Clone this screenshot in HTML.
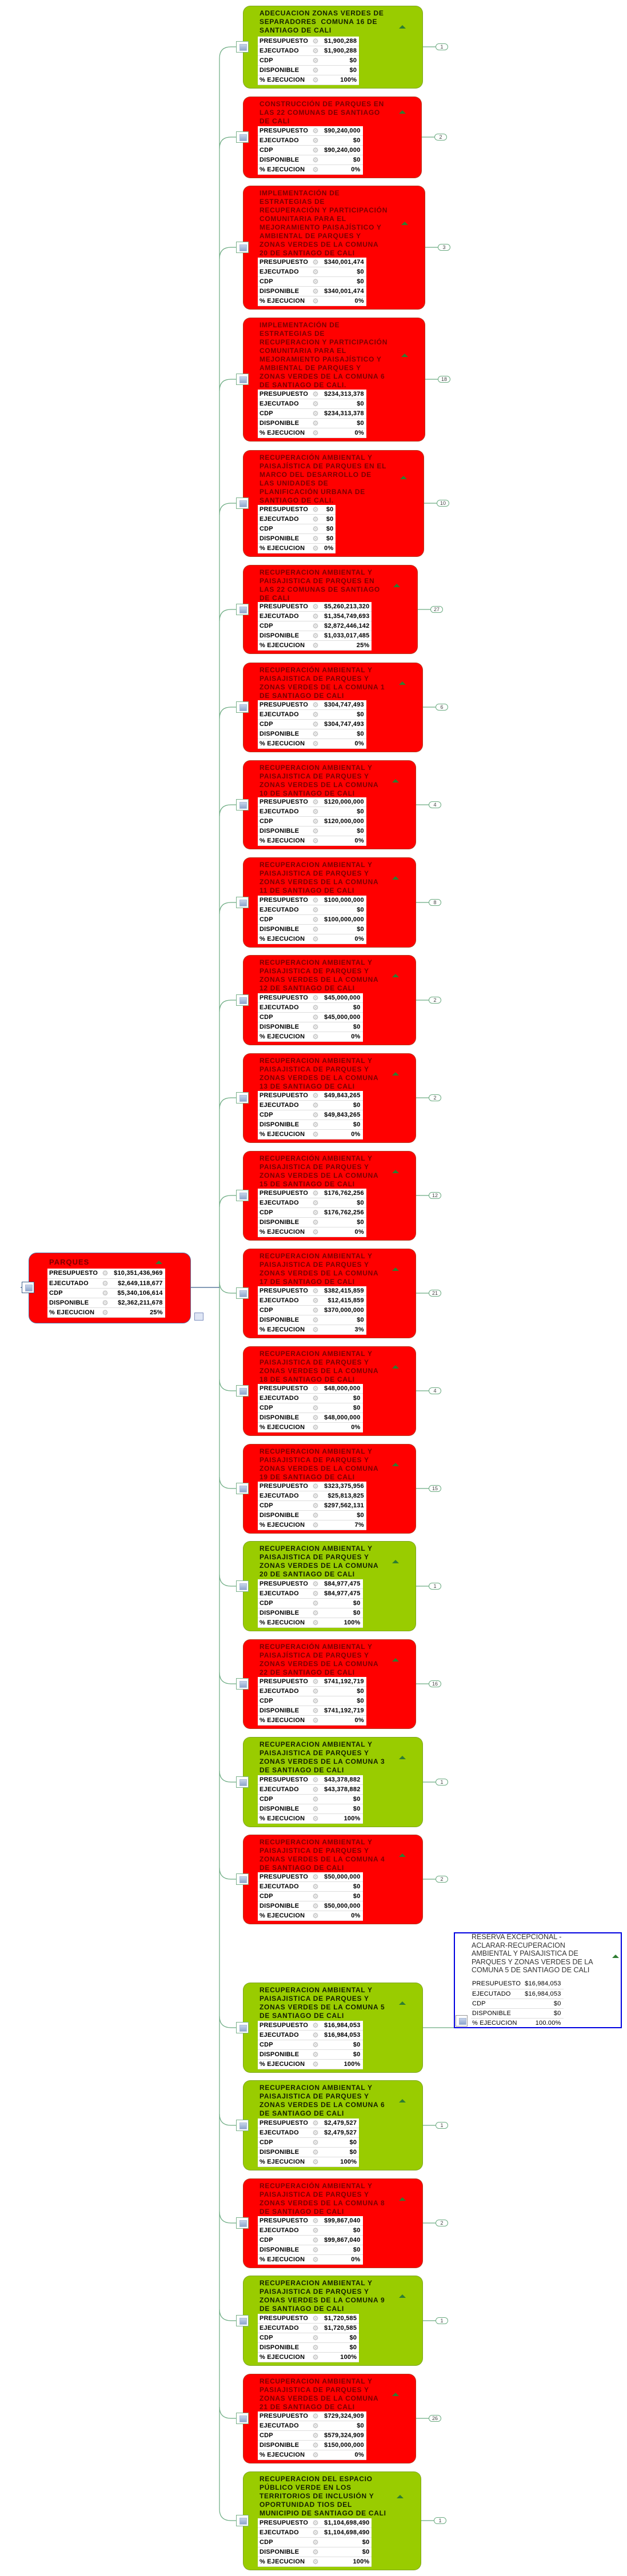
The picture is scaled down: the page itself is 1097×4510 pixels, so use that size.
<!DOCTYPE html>
<html><head><meta charset="utf-8">
<style>
*{margin:0;padding:0;box-sizing:border-box}
body{width:1097px;height:4510px;background:#fff;position:relative;overflow:hidden;font-family:"Liberation Sans",sans-serif}
.n{position:absolute;left:425px;border-radius:13px;border:1px solid rgba(90,120,60,.45)}
.r{background:#ff0000}
.g{background:#99cc00}
.t{position:absolute;left:28px;top:5px;font-weight:bold;font-size:12px;letter-spacing:.7px;line-height:15px;white-space:nowrap}
.r .t{color:#7a0000}
.g .t{color:#142000}
.n table{position:absolute;left:25px;bottom:5px}
table{border-collapse:collapse;background:#fff}
td{height:17px;font-size:11px;font-weight:bold;letter-spacing:.2px;color:#000;white-space:nowrap;border-bottom:1px solid #ddd;padding:0 4px 0 3px;line-height:16px}
td.l{width:90px}
td.k{width:18px;color:#c8c8c8;font-size:12px;padding:0;text-align:center}
td.v{text-align:right;padding-left:6px}
.tri{position:absolute;width:0;height:0;border-left:6px solid transparent;border-right:6px solid transparent;border-bottom:6px solid #2e7d32}
.ic{position:absolute;left:413px;width:22px;height:20px;background:#fff;border:1px solid #7ab08a}
.ic:after{content:"";position:absolute;left:5px;top:4px;width:11px;height:10px;background:linear-gradient(#c6d4ea,#8ea6cc);border:1px solid #a9b9d6}
.bd{position:absolute;width:22px;height:12px;border:1px solid #6aaa80;border-radius:7px;font-size:9px;line-height:10px;text-align:center;color:#444;background:#fff}
</style></head><body>
<svg width="1097" height="4510" style="position:absolute;left:0;top:0" xmlns="http://www.w3.org/2000/svg">
<g fill="none" stroke="#6aaa80" stroke-width="1.2">
<path d="M384,102 L384,4393"/>
<path d="M384,102 Q384,82 404,82 L413,82"/>
<path d="M384,260 Q384,240 404,240 L413,240"/>
<path d="M384,453 Q384,433 404,433 L413,433"/>
<path d="M384,684 Q384,664 404,664 L413,664"/>
<path d="M384,901 Q384,881 404,881 L413,881"/>
<path d="M384,1087 Q384,1067 404,1067 L413,1067"/>
<path d="M384,1258 Q384,1238 404,1238 L413,1238"/>
<path d="M384,1429 Q384,1409 404,1409 L413,1409"/>
<path d="M384,1600 Q384,1580 404,1580 L413,1580"/>
<path d="M384,1771 Q384,1751 404,1751 L413,1751"/>
<path d="M384,1942 Q384,1922 404,1922 L413,1922"/>
<path d="M384,2113 Q384,2093 404,2093 L413,2093"/>
<path d="M384,2244 Q384,2264 404,2264 L413,2264"/>
<path d="M384,2415 Q384,2435 404,2435 L413,2435"/>
<path d="M384,2586 Q384,2606 404,2606 L413,2606"/>
<path d="M384,2757 Q384,2777 404,2777 L413,2777"/>
<path d="M384,2928 Q384,2948 404,2948 L413,2948"/>
<path d="M384,3100 Q384,3120 404,3120 L413,3120"/>
<path d="M384,3270 Q384,3290 404,3290 L413,3290"/>
<path d="M384,3530 Q384,3550 404,3550 L413,3550"/>
<path d="M384,3701 Q384,3721 404,3721 L413,3721"/>
<path d="M384,3872 Q384,3892 404,3892 L413,3892"/>
<path d="M384,4043 Q384,4063 404,4063 L413,4063"/>
<path d="M384,4214 Q384,4234 404,4234 L413,4234"/>
<path d="M384,4393 Q384,4413 404,4413 L413,4413"/>
<path d="M740,82 H762"/><path d="M738,240 H760"/><path d="M744,433 H766"/><path d="M744,664 H766"/>
<path d="M742,881 H764"/><path d="M731,1067 H753"/><path d="M740,1238 H762"/><path d="M728,1409 H750"/>
<path d="M728,1580 H750"/><path d="M728,1751 H750"/><path d="M728,1922 H750"/><path d="M728,2093 H750"/>
<path d="M728,2264 H750"/><path d="M728,2435 H750"/><path d="M728,2606 H750"/><path d="M728,2777 H750"/>
<path d="M728,2948 H750"/><path d="M740,3120 H762"/><path d="M740,3290 H762"/><path d="M740,3550 H794"/>
<path d="M740,3721 H762"/><path d="M740,3892 H762"/><path d="M740,4063 H762"/><path d="M728,4234 H750"/>
<path d="M737,4413 H759"/>
</g>
<path d="M334,2254 H384" stroke="#3a5f8a" stroke-width="1.2"/>
<path d="M36,2254 H40" stroke="#3a5f8a" stroke-width="1.2"/>
</svg>

<!-- badges -->
<div class="bd" style="left:762px;top:76px">1</div>
<div class="bd" style="left:760px;top:234px">2</div>
<div class="bd" style="left:766px;top:427px">3</div>
<div class="bd" style="left:766px;top:658px">18</div>
<div class="bd" style="left:764px;top:875px">10</div>
<div class="bd" style="left:753px;top:1061px">27</div>
<div class="bd" style="left:762px;top:1232px">6</div>
<div class="bd" style="left:750px;top:1403px">4</div>
<div class="bd" style="left:750px;top:1574px">8</div>
<div class="bd" style="left:750px;top:1745px">2</div>
<div class="bd" style="left:750px;top:1916px">2</div>
<div class="bd" style="left:750px;top:2087px">12</div>
<div class="bd" style="left:750px;top:2258px">21</div>
<div class="bd" style="left:750px;top:2429px">4</div>
<div class="bd" style="left:750px;top:2600px">15</div>
<div class="bd" style="left:750px;top:2771px">1</div>
<div class="bd" style="left:750px;top:2942px">16</div>
<div class="bd" style="left:762px;top:3114px">1</div>
<div class="bd" style="left:762px;top:3284px">2</div>
<div class="bd" style="left:762px;top:3715px">1</div>
<div class="bd" style="left:762px;top:3886px">2</div>
<div class="bd" style="left:762px;top:4057px">1</div>
<div class="bd" style="left:750px;top:4228px">26</div>
<div class="bd" style="left:759px;top:4407px">1</div>

<!-- ROOT -->
<div style="position:absolute;left:50px;top:2193px;width:284px;height:124px;background:#ff0000;border:1px solid #5a6a9a;border-radius:14px">
  <div style="position:absolute;left:35px;top:8px;font-weight:bold;font-size:13px;letter-spacing:1px;color:#7a0000">PARQUES</div>
  <div class="tri" style="left:221px;top:13px"></div>
  <table style="position:absolute;left:32px;top:27px">
    <tr><td class="l">PRESUPUESTO</td><td class="k">⚙</td><td class="v">$10,351,436,969</td></tr>
    <tr><td class="l">EJECUTADO</td><td class="k">⚙</td><td class="v">$2,649,118,677</td></tr>
    <tr><td class="l">CDP</td><td class="k">⚙</td><td class="v">$5,340,106,614</td></tr>
    <tr><td class="l">DISPONIBLE</td><td class="k">⚙</td><td class="v">$2,362,211,678</td></tr>
    <tr><td class="l">% EJECUCION</td><td class="k">⚙</td><td class="v">25%</td></tr>
  </table>
</div>
<div class="ic" style="left:38px;top:2244px;border-color:#3a5f8a"></div>
<div style="position:absolute;left:340px;top:2298px;width:16px;height:14px;border:1px solid #7d8fbf;background:#dfe6f5"></div>

<!-- 1 -->
<div class="n g" style="top:10px;height:145px;width:315px">
<div class="t">ADECUACION ZONAS VERDES DE<br>SEPARADORES&nbsp; COMUNA 16 DE<br>SANTIAGO DE CALI</div>
<div class="tri" style="left:272px;top:33px"></div>
<table><tr><td class="l">PRESUPUESTO</td><td class="k">⚙</td><td class="v">$1,900,288</td></tr><tr><td class="l">EJECUTADO</td><td class="k">⚙</td><td class="v">$1,900,288</td></tr><tr><td class="l">CDP</td><td class="k">⚙</td><td class="v">$0</td></tr><tr><td class="l">DISPONIBLE</td><td class="k">⚙</td><td class="v">$0</td></tr><tr><td class="l">% EJECUCION</td><td class="k">⚙</td><td class="v">100%</td></tr></table>
</div>
<div class="ic" style="top:72px"></div>

<!-- 2 -->
<div class="n r" style="top:169px;height:143px;width:313px">
<div class="t">CONSTRUCCIÓN DE PARQUES EN<br>LAS 22 COMUNAS DE SANTIAGO<br>DE CALI</div>
<div class="tri" style="left:272px;top:23px"></div>
<table><tr><td class="l">PRESUPUESTO</td><td class="k">⚙</td><td class="v">$90,240,000</td></tr><tr><td class="l">EJECUTADO</td><td class="k">⚙</td><td class="v">$0</td></tr><tr><td class="l">CDP</td><td class="k">⚙</td><td class="v">$90,240,000</td></tr><tr><td class="l">DISPONIBLE</td><td class="k">⚙</td><td class="v">$0</td></tr><tr><td class="l">% EJECUCION</td><td class="k">⚙</td><td class="v">0%</td></tr></table>
</div>
<div class="ic" style="top:230px"></div>

<!-- 3 -->
<div class="n r" style="top:325px;height:217px;width:319px">
<div class="t">IMPLEMENTACIÓN DE<br>ESTRATEGIAS DE<br>RECUPERACIÓN Y PARTICIPACIÓN<br>COMUNITARIA PARA EL<br>MEJORAMIENTO PAISAJÍSTICO Y<br>AMBIENTAL DE PARQUES Y<br>ZONAS VERDES DE LA COMUNA<br>20 DE SANTIAGO DE CALI</div>
<div class="tri" style="left:276px;top:62px"></div>
<table><tr><td class="l">PRESUPUESTO</td><td class="k">⚙</td><td class="v">$340,001,474</td></tr><tr><td class="l">EJECUTADO</td><td class="k">⚙</td><td class="v">$0</td></tr><tr><td class="l">CDP</td><td class="k">⚙</td><td class="v">$0</td></tr><tr><td class="l">DISPONIBLE</td><td class="k">⚙</td><td class="v">$340,001,474</td></tr><tr><td class="l">% EJECUCION</td><td class="k">⚙</td><td class="v">0%</td></tr></table>
</div>
<div class="ic" style="top:423px"></div>

<!-- 4 -->
<div class="n r" style="top:556px;height:217px;width:319px">
<div class="t">IMPLEMENTACIÓN DE<br>ESTRATEGIAS DE<br>RECUPERACION Y PARTICIPACIÓN<br>COMUNITARIA PARA EL<br>MEJORAMIENTO PAISAJÍSTICO Y<br>AMBIENTAL DE PARQUES Y<br>ZONAS VERDES DE LA COMUNA 6<br>DE SANTIAGO DE CALI.</div>
<div class="tri" style="left:276px;top:62px"></div>
<table><tr><td class="l">PRESUPUESTO</td><td class="k">⚙</td><td class="v">$234,313,378</td></tr><tr><td class="l">EJECUTADO</td><td class="k">⚙</td><td class="v">$0</td></tr><tr><td class="l">CDP</td><td class="k">⚙</td><td class="v">$234,313,378</td></tr><tr><td class="l">DISPONIBLE</td><td class="k">⚙</td><td class="v">$0</td></tr><tr><td class="l">% EJECUCION</td><td class="k">⚙</td><td class="v">0%</td></tr></table>
</div>
<div class="ic" style="top:654px"></div>

<!-- 5 -->
<div class="n r" style="top:788px;height:187px;width:317px">
<div class="t">RECUPERACIÓN AMBIENTAL Y<br>PAISAJÍSTICA DE PARQUES EN EL<br>MARCO DEL DESARROLLO DE<br>LAS UNIDADES DE<br>PLANIFICACIÓN URBANA DE<br>SANTIAGO DE CALI.</div>
<div class="tri" style="left:274px;top:44px"></div>
<table><tr><td class="l">PRESUPUESTO</td><td class="k">⚙</td><td class="v">$0</td></tr><tr><td class="l">EJECUTADO</td><td class="k">⚙</td><td class="v">$0</td></tr><tr><td class="l">CDP</td><td class="k">⚙</td><td class="v">$0</td></tr><tr><td class="l">DISPONIBLE</td><td class="k">⚙</td><td class="v">$0</td></tr><tr><td class="l">% EJECUCION</td><td class="k">⚙</td><td class="v">0%</td></tr></table>
</div>
<div class="ic" style="top:871px"></div>

<!-- 6 -->
<div class="n r" style="top:989px;height:156px;width:306px">
<div class="t">RECUPERACION AMBIENTAL Y<br>PAISAJISTICA DE PARQUES EN<br>LAS 22 COMUNAS DE SANTIAGO<br>DE CALI</div>
<div class="tri" style="left:262px;top:32px"></div>
<table><tr><td class="l">PRESUPUESTO</td><td class="k">⚙</td><td class="v">$5,260,213,320</td></tr><tr><td class="l">EJECUTADO</td><td class="k">⚙</td><td class="v">$1,354,749,693</td></tr><tr><td class="l">CDP</td><td class="k">⚙</td><td class="v">$2,872,446,142</td></tr><tr><td class="l">DISPONIBLE</td><td class="k">⚙</td><td class="v">$1,033,017,485</td></tr><tr><td class="l">% EJECUCION</td><td class="k">⚙</td><td class="v">25%</td></tr></table>
</div>
<div class="ic" style="top:1057px"></div>

<!-- 7 c1 -->
<div class="n r" style="top:1160px;height:157px;width:315px">
<div class="t">RECUPERACIÓN AMBIENTAL Y<br>PAISAJISTICA DE PARQUES Y<br>ZONAS VERDES DE LA COMUNA 1<br>DE SANTIAGO DE CALI</div>
<div class="tri" style="left:272px;top:32px"></div>
<table><tr><td class="l">PRESUPUESTO</td><td class="k">⚙</td><td class="v">$304,747,493</td></tr><tr><td class="l">EJECUTADO</td><td class="k">⚙</td><td class="v">$0</td></tr><tr><td class="l">CDP</td><td class="k">⚙</td><td class="v">$304,747,493</td></tr><tr><td class="l">DISPONIBLE</td><td class="k">⚙</td><td class="v">$0</td></tr><tr><td class="l">% EJECUCION</td><td class="k">⚙</td><td class="v">0%</td></tr></table>
</div>
<div class="ic" style="top:1228px"></div>

<!-- 8 c10 -->
<div class="n r" style="top:1331px;height:156px;width:303px">
<div class="t">RECUPERACION AMBIENTAL Y<br>PAISAJISTICA DE PARQUES Y<br>ZONAS VERDES DE LA COMUNA<br>10 DE SANTIAGO DE CALI</div>
<div class="tri" style="left:260px;top:32px"></div>
<table><tr><td class="l">PRESUPUESTO</td><td class="k">⚙</td><td class="v">$120,000,000</td></tr><tr><td class="l">EJECUTADO</td><td class="k">⚙</td><td class="v">$0</td></tr><tr><td class="l">CDP</td><td class="k">⚙</td><td class="v">$120,000,000</td></tr><tr><td class="l">DISPONIBLE</td><td class="k">⚙</td><td class="v">$0</td></tr><tr><td class="l">% EJECUCION</td><td class="k">⚙</td><td class="v">0%</td></tr></table>
</div>
<div class="ic" style="top:1399px"></div>

<!-- 9 c11 -->
<div class="n r" style="top:1501px;height:158px;width:303px">
<div class="t">RECUPERACION AMBIENTAL Y<br>PAISAJISTICA DE PARQUES Y<br>ZONAS VERDES DE LA COMUNA<br>11 DE SANTIAGO DE CALI</div>
<div class="tri" style="left:260px;top:32px"></div>
<table><tr><td class="l">PRESUPUESTO</td><td class="k">⚙</td><td class="v">$100,000,000</td></tr><tr><td class="l">EJECUTADO</td><td class="k">⚙</td><td class="v">$0</td></tr><tr><td class="l">CDP</td><td class="k">⚙</td><td class="v">$100,000,000</td></tr><tr><td class="l">DISPONIBLE</td><td class="k">⚙</td><td class="v">$0</td></tr><tr><td class="l">% EJECUCION</td><td class="k">⚙</td><td class="v">0%</td></tr></table>
</div>
<div class="ic" style="top:1570px"></div>

<!-- 10 c12 -->
<div class="n r" style="top:1672px;height:158px;width:303px">
<div class="t">RECUPERACION AMBIENTAL Y<br>PAISAJISTICA DE PARQUES Y<br>ZONAS VERDES DE LA COMUNA<br>12 DE SANTIAGO DE CALI</div>
<div class="tri" style="left:260px;top:32px"></div>
<table><tr><td class="l">PRESUPUESTO</td><td class="k">⚙</td><td class="v">$45,000,000</td></tr><tr><td class="l">EJECUTADO</td><td class="k">⚙</td><td class="v">$0</td></tr><tr><td class="l">CDP</td><td class="k">⚙</td><td class="v">$45,000,000</td></tr><tr><td class="l">DISPONIBLE</td><td class="k">⚙</td><td class="v">$0</td></tr><tr><td class="l">% EJECUCION</td><td class="k">⚙</td><td class="v">0%</td></tr></table>
</div>
<div class="ic" style="top:1741px"></div>

<!-- 11 c13 -->
<div class="n r" style="top:1844px;height:157px;width:303px">
<div class="t">RECUPERACION AMBIENTAL Y<br>PAISAJISTICA DE PARQUES Y<br>ZONAS VERDES DE LA COMUNA<br>13 DE SANTIAGO DE CALI</div>
<div class="tri" style="left:260px;top:32px"></div>
<table><tr><td class="l">PRESUPUESTO</td><td class="k">⚙</td><td class="v">$49,843,265</td></tr><tr><td class="l">EJECUTADO</td><td class="k">⚙</td><td class="v">$0</td></tr><tr><td class="l">CDP</td><td class="k">⚙</td><td class="v">$49,843,265</td></tr><tr><td class="l">DISPONIBLE</td><td class="k">⚙</td><td class="v">$0</td></tr><tr><td class="l">% EJECUCION</td><td class="k">⚙</td><td class="v">0%</td></tr></table>
</div>
<div class="ic" style="top:1912px"></div>

<!-- 12 c15 -->
<div class="n r" style="top:2015px;height:157px;width:303px">
<div class="t">RECUPERACIÓN AMBIENTAL Y<br>PAISAJISTICA DE PARQUES Y<br>ZONAS VERDES DE LA COMUNA<br>15 DE SANTIAGO DE CALI</div>
<div class="tri" style="left:260px;top:32px"></div>
<table><tr><td class="l">PRESUPUESTO</td><td class="k">⚙</td><td class="v">$176,762,256</td></tr><tr><td class="l">EJECUTADO</td><td class="k">⚙</td><td class="v">$0</td></tr><tr><td class="l">CDP</td><td class="k">⚙</td><td class="v">$176,762,256</td></tr><tr><td class="l">DISPONIBLE</td><td class="k">⚙</td><td class="v">$0</td></tr><tr><td class="l">% EJECUCION</td><td class="k">⚙</td><td class="v">0%</td></tr></table>
</div>
<div class="ic" style="top:2083px"></div>

<!-- 13 c17 -->
<div class="n r" style="top:2186px;height:157px;width:303px">
<div class="t">RECUPERACION AMBIENTAL Y<br>PAISAJISTICA DE PARQUES Y<br>ZONAS VERDES DE LA COMUNA<br>17 DE SANTIAGO DE CALI</div>
<div class="tri" style="left:260px;top:32px"></div>
<table><tr><td class="l">PRESUPUESTO</td><td class="k">⚙</td><td class="v">$382,415,859</td></tr><tr><td class="l">EJECUTADO</td><td class="k">⚙</td><td class="v">$12,415,859</td></tr><tr><td class="l">CDP</td><td class="k">⚙</td><td class="v">$370,000,000</td></tr><tr><td class="l">DISPONIBLE</td><td class="k">⚙</td><td class="v">$0</td></tr><tr><td class="l">% EJECUCION</td><td class="k">⚙</td><td class="v">3%</td></tr></table>
</div>
<div class="ic" style="top:2254px"></div>

<!-- 14 c18 -->
<div class="n r" style="top:2357px;height:157px;width:303px">
<div class="t">RECUPERACION AMBIENTAL Y<br>PAISAJISTICA DE PARQUES Y<br>ZONAS VERDES DE LA COMUNA<br>18 DE SANTIAGO DE CALI</div>
<div class="tri" style="left:260px;top:32px"></div>
<table><tr><td class="l">PRESUPUESTO</td><td class="k">⚙</td><td class="v">$48,000,000</td></tr><tr><td class="l">EJECUTADO</td><td class="k">⚙</td><td class="v">$0</td></tr><tr><td class="l">CDP</td><td class="k">⚙</td><td class="v">$0</td></tr><tr><td class="l">DISPONIBLE</td><td class="k">⚙</td><td class="v">$48,000,000</td></tr><tr><td class="l">% EJECUCION</td><td class="k">⚙</td><td class="v">0%</td></tr></table>
</div>
<div class="ic" style="top:2425px"></div>

<!-- 15 c19 -->
<div class="n r" style="top:2528px;height:157px;width:303px">
<div class="t">RECUPERACION AMBIENTAL Y<br>PAISAJISTICA DE PARQUES Y<br>ZONAS VERDES DE LA COMUNA<br>19 DE SANTIAGO DE CALI</div>
<div class="tri" style="left:260px;top:32px"></div>
<table><tr><td class="l">PRESUPUESTO</td><td class="k">⚙</td><td class="v">$323,375,956</td></tr><tr><td class="l">EJECUTADO</td><td class="k">⚙</td><td class="v">$25,813,825</td></tr><tr><td class="l">CDP</td><td class="k">⚙</td><td class="v">$297,562,131</td></tr><tr><td class="l">DISPONIBLE</td><td class="k">⚙</td><td class="v">$0</td></tr><tr><td class="l">% EJECUCION</td><td class="k">⚙</td><td class="v">7%</td></tr></table>
</div>
<div class="ic" style="top:2596px"></div>

<!-- 16 c20 -->
<div class="n g" style="top:2698px;height:158px;width:303px">
<div class="t">RECUPERACION AMBIENTAL Y<br>PAISAJISTICA DE PARQUES Y<br>ZONAS VERDES DE LA COMUNA<br>20 DE SANTIAGO DE CALI</div>
<div class="tri" style="left:260px;top:32px"></div>
<table><tr><td class="l">PRESUPUESTO</td><td class="k">⚙</td><td class="v">$84,977,475</td></tr><tr><td class="l">EJECUTADO</td><td class="k">⚙</td><td class="v">$84,977,475</td></tr><tr><td class="l">CDP</td><td class="k">⚙</td><td class="v">$0</td></tr><tr><td class="l">DISPONIBLE</td><td class="k">⚙</td><td class="v">$0</td></tr><tr><td class="l">% EJECUCION</td><td class="k">⚙</td><td class="v">100%</td></tr></table>
</div>
<div class="ic" style="top:2767px"></div>

<!-- 17 c22 -->
<div class="n r" style="top:2870px;height:157px;width:303px">
<div class="t">RECUPERACIÓN AMBIENTAL Y<br>PAISAJÍSTICA DE PARQUES Y<br>ZONAS VERDES DE LA COMUNA<br>22 DE SANTIAGO DE CALI</div>
<div class="tri" style="left:260px;top:32px"></div>
<table><tr><td class="l">PRESUPUESTO</td><td class="k">⚙</td><td class="v">$741,192,719</td></tr><tr><td class="l">EJECUTADO</td><td class="k">⚙</td><td class="v">$0</td></tr><tr><td class="l">CDP</td><td class="k">⚙</td><td class="v">$0</td></tr><tr><td class="l">DISPONIBLE</td><td class="k">⚙</td><td class="v">$741,192,719</td></tr><tr><td class="l">% EJECUCION</td><td class="k">⚙</td><td class="v">0%</td></tr></table>
</div>
<div class="ic" style="top:2938px"></div>

<!-- 18 c3 -->
<div class="n g" style="top:3041px;height:158px;width:315px">
<div class="t">RECUPERACION AMBIENTAL Y<br>PAISAJISTICA DE PARQUES Y<br>ZONAS VERDES DE LA COMUNA 3<br>DE SANTIAGO DE CALI</div>
<div class="tri" style="left:272px;top:32px"></div>
<table><tr><td class="l">PRESUPUESTO</td><td class="k">⚙</td><td class="v">$43,378,882</td></tr><tr><td class="l">EJECUTADO</td><td class="k">⚙</td><td class="v">$43,378,882</td></tr><tr><td class="l">CDP</td><td class="k">⚙</td><td class="v">$0</td></tr><tr><td class="l">DISPONIBLE</td><td class="k">⚙</td><td class="v">$0</td></tr><tr><td class="l">% EJECUCION</td><td class="k">⚙</td><td class="v">100%</td></tr></table>
</div>
<div class="ic" style="top:3110px"></div>

<!-- 19 c4 -->
<div class="n r" style="top:3212px;height:157px;width:315px">
<div class="t">RECUPERACION AMBIENTAL Y<br>PAISAJISTICA DE PARQUES Y<br>ZONAS VERDES DE LA COMUNA 4<br>DE SANTIAGO DE CALI</div>
<div class="tri" style="left:272px;top:32px"></div>
<table><tr><td class="l">PRESUPUESTO</td><td class="k">⚙</td><td class="v">$50,000,000</td></tr><tr><td class="l">EJECUTADO</td><td class="k">⚙</td><td class="v">$0</td></tr><tr><td class="l">CDP</td><td class="k">⚙</td><td class="v">$0</td></tr><tr><td class="l">DISPONIBLE</td><td class="k">⚙</td><td class="v">$50,000,000</td></tr><tr><td class="l">% EJECUCION</td><td class="k">⚙</td><td class="v">0%</td></tr></table>
</div>
<div class="ic" style="top:3280px"></div>

<!-- blue box -->
<div style="position:absolute;left:794px;top:3383px;width:294px;height:168px;background:#fff;border:2px solid #0000e0">
  <div style="position:absolute;left:29px;top:-1px;font-size:12.5px;line-height:14.5px;color:#333;white-space:nowrap">RESERVA EXCEPCIONAL -<br>ACLARAR-RECUPERACION<br>AMBIENTAL Y PAISAJISTICA DE<br>PARQUES Y ZONAS VERDES DE LA<br>COMUNA 5 DE SANTIAGO DE CALI</div>
  <div class="tri" style="left:275px;top:37px"></div>
  <table style="position:absolute;left:28px;top:80px;background:transparent">
    <tr><td style="font-weight:normal;font-size:11px;width:88px;padding-left:2px">PRESUPUESTO</td><td style="font-weight:normal;font-size:11px;text-align:right;padding-right:4px">$16,984,053</td></tr>
    <tr><td style="font-weight:normal;font-size:11px;padding-left:2px">EJECUTADO</td><td style="font-weight:normal;font-size:11px;text-align:right;padding-right:4px">$16,984,053</td></tr>
    <tr><td style="font-weight:normal;font-size:11px;padding-left:2px">CDP</td><td style="font-weight:normal;font-size:11px;text-align:right;padding-right:4px">$0</td></tr>
    <tr><td style="font-weight:normal;font-size:11px;padding-left:2px">DISPONIBLE</td><td style="font-weight:normal;font-size:11px;text-align:right;padding-right:4px">$0</td></tr>
    <tr><td style="font-weight:normal;font-size:11px;padding-left:2px;border-bottom:none">% EJECUCION</td><td style="font-weight:normal;font-size:11px;text-align:right;padding-right:4px;border-bottom:none">100.00%</td></tr>
  </table>
  <div class="ic" style="left:1px;top:143px;width:21px;height:20px;border-color:#999"></div>
</div>

<!-- 20 c5 -->
<div class="n g" style="top:3471px;height:158px;width:315px">
<div class="t">RECUPERACION AMBIENTAL Y<br>PAISAJISTICA DE PARQUES Y<br>ZONAS VERDES DE LA COMUNA 5<br>DE SANTIAGO DE CALI</div>
<div class="tri" style="left:272px;top:32px"></div>
<table><tr><td class="l">PRESUPUESTO</td><td class="k">⚙</td><td class="v">$16,984,053</td></tr><tr><td class="l">EJECUTADO</td><td class="k">⚙</td><td class="v">$16,984,053</td></tr><tr><td class="l">CDP</td><td class="k">⚙</td><td class="v">$0</td></tr><tr><td class="l">DISPONIBLE</td><td class="k">⚙</td><td class="v">$0</td></tr><tr><td class="l">% EJECUCION</td><td class="k">⚙</td><td class="v">100%</td></tr></table>
</div>
<div class="ic" style="top:3540px"></div>

<!-- 21 c6 -->
<div class="n g" style="top:3642px;height:158px;width:315px">
<div class="t">RECUPERACION AMBIENTAL Y<br>PAISAJISTICA DE PARQUES Y<br>ZONAS VERDES DE LA COMUNA 6<br>DE SANTIAGO DE CALI</div>
<div class="tri" style="left:272px;top:32px"></div>
<table><tr><td class="l">PRESUPUESTO</td><td class="k">⚙</td><td class="v">$2,479,527</td></tr><tr><td class="l">EJECUTADO</td><td class="k">⚙</td><td class="v">$2,479,527</td></tr><tr><td class="l">CDP</td><td class="k">⚙</td><td class="v">$0</td></tr><tr><td class="l">DISPONIBLE</td><td class="k">⚙</td><td class="v">$0</td></tr><tr><td class="l">% EJECUCION</td><td class="k">⚙</td><td class="v">100%</td></tr></table>
</div>
<div class="ic" style="top:3711px"></div>

<!-- 22 c8 -->
<div class="n r" style="top:3814px;height:157px;width:315px">
<div class="t">RECUPERACIÓN AMBIENTAL Y<br>PAISAJISTICA DE PARQUES Y<br>ZONAS VERDES DE LA COMUNA 8<br>DE SANTIAGO DE CALI</div>
<div class="tri" style="left:272px;top:32px"></div>
<table><tr><td class="l">PRESUPUESTO</td><td class="k">⚙</td><td class="v">$99,867,040</td></tr><tr><td class="l">EJECUTADO</td><td class="k">⚙</td><td class="v">$0</td></tr><tr><td class="l">CDP</td><td class="k">⚙</td><td class="v">$99,867,040</td></tr><tr><td class="l">DISPONIBLE</td><td class="k">⚙</td><td class="v">$0</td></tr><tr><td class="l">% EJECUCION</td><td class="k">⚙</td><td class="v">0%</td></tr></table>
</div>
<div class="ic" style="top:3882px"></div>

<!-- 23 c9 -->
<div class="n g" style="top:3984px;height:158px;width:315px">
<div class="t">RECUPERACION AMBIENTAL Y<br>PAISAJISTICA DE PARQUES Y<br>ZONAS VERDES DE LA COMUNA 9<br>DE SANTIAGO DE CALI</div>
<div class="tri" style="left:272px;top:32px"></div>
<table><tr><td class="l">PRESUPUESTO</td><td class="k">⚙</td><td class="v">$1,720,585</td></tr><tr><td class="l">EJECUTADO</td><td class="k">⚙</td><td class="v">$1,720,585</td></tr><tr><td class="l">CDP</td><td class="k">⚙</td><td class="v">$0</td></tr><tr><td class="l">DISPONIBLE</td><td class="k">⚙</td><td class="v">$0</td></tr><tr><td class="l">% EJECUCION</td><td class="k">⚙</td><td class="v">100%</td></tr></table>
</div>
<div class="ic" style="top:4053px"></div>

<!-- 24 c21 -->
<div class="n r" style="top:4156px;height:157px;width:303px">
<div class="t">RECUPERACION AMBIENTAL Y<br>PASIAJISTICA DE PARQUES Y<br>ZONAS VERDES DE LA COMUNA<br>21 DE SANTIAGO DE CALI</div>
<div class="tri" style="left:260px;top:32px"></div>
<table><tr><td class="l">PRESUPUESTO</td><td class="k">⚙</td><td class="v">$729,324,909</td></tr><tr><td class="l">EJECUTADO</td><td class="k">⚙</td><td class="v">$0</td></tr><tr><td class="l">CDP</td><td class="k">⚙</td><td class="v">$579,324,909</td></tr><tr><td class="l">DISPONIBLE</td><td class="k">⚙</td><td class="v">$150,000,000</td></tr><tr><td class="l">% EJECUCION</td><td class="k">⚙</td><td class="v">0%</td></tr></table>
</div>
<div class="ic" style="top:4224px"></div>

<!-- 25 TIOS -->
<div class="n g" style="top:4327px;height:173px;width:312px">
<div class="t">RECUPERACION DEL ESPACIO<br>PÚBLICO VERDE EN LOS<br>TERRITORIOS DE INCLUSIÓN Y<br>OPORTUNIDAD TIOS DEL<br>MUNICIPIO DE SANTIAGO DE CALI</div>
<div class="tri" style="left:268px;top:40px"></div>
<table><tr><td class="l">PRESUPUESTO</td><td class="k">⚙</td><td class="v">$1,104,698,490</td></tr><tr><td class="l">EJECUTADO</td><td class="k">⚙</td><td class="v">$1,104,698,490</td></tr><tr><td class="l">CDP</td><td class="k">⚙</td><td class="v">$0</td></tr><tr><td class="l">DISPONIBLE</td><td class="k">⚙</td><td class="v">$0</td></tr><tr><td class="l">% EJECUCION</td><td class="k">⚙</td><td class="v">100%</td></tr></table>
</div>
<div class="ic" style="top:4403px"></div>

</body></html>
